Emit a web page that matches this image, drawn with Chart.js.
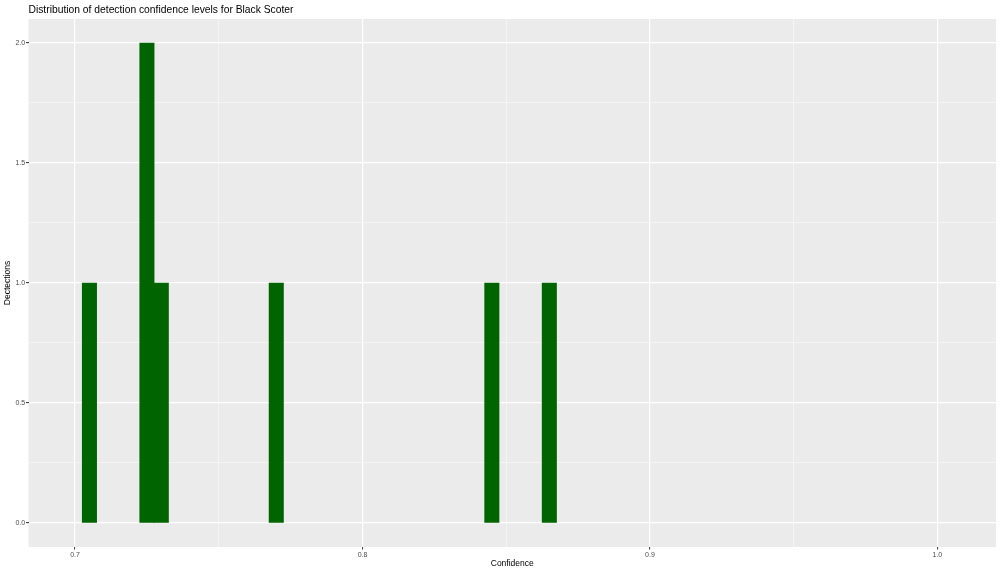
<!DOCTYPE html>
<html>
<head>
<meta charset="utf-8">
<script src="https://cdn.jsdelivr.net/npm/chart.js@4/dist/chart.umd.min.js"></script>
<style>
    body { margin: 0; background: #ffffff; }
    #wrap { width: 1000px; height: 573px; position: relative; }
</style>
</head>
<body>
<div id="wrap"><canvas id="histChart"></canvas></div>
<script>
// histogram bins (binwidth 0.005), only the non-empty ones
const binCenters = [0.705, 0.725, 0.730, 0.770, 0.845, 0.865];
const detections = [1, 2, 1, 1, 1, 1];

// tick values (major get labels, minor only grid lines)
const xMajorTicks = [0.7, 0.8, 0.9, 1.0];
const xMinorTicks = [0.75, 0.85, 0.95];
const yMajorTicks = [0, 0.5, 1, 1.5, 2];
const yMinorTicks = [0.25, 0.75, 1.25, 1.75];

const fontFamily = '"Liberation Sans", Arial, Helvetica, sans-serif';

function isIn(v, list) {
    return list.some(t => Math.abs(t - v) < 1e-9);
}

// grey panel behind the plot area
const panelBg = {
    id: 'panelBg',
    beforeDraw(chart) {
        const { ctx, chartArea } = chart;
        ctx.save();
        ctx.fillStyle = '#EBEBEB';
        ctx.fillRect(chartArea.left, chartArea.top, chartArea.right - chartArea.left, chartArea.bottom - chartArea.top);
        ctx.restore();
    }
};

function gridFor(majors) {
    return {
        drawOnChartArea: true,
        drawTicks: true,
        tickLength: 2.5,
        tickWidth: 1,
        color: ctx => isIn(ctx.tick.value, majors) ? '#FFFFFF' : '#F4F4F4',
        lineWidth: ctx => isIn(ctx.tick.value, majors) ? 1.2 : 1,
        tickColor: ctx => isIn(ctx.tick.value, majors) ? '#333333' : 'rgba(0,0,0,0)'
    };
}

const points = binCenters.map((c, i) => ({ x: c, y: detections[i] }));

new Chart(document.getElementById('histChart'), {
    type: 'bar',
    data: {
        datasets: [{
            label: 'Detections',
            data: points,
            backgroundColor: '#006400',
            borderWidth: 0,
            barPercentage: 1,
            categoryPercentage: 1,
            grouped: false
        }]
    },
    options: {
        responsive: true,
        maintainAspectRatio: false,
        animation: false,
        layout: { padding: { left: 0, right: 4, top: 0, bottom: 0 } },
        plugins: {
            legend: { display: false },
            tooltip: { enabled: false },
            title: {
                display: true,
                text: 'Distribution of detection confidence levels for Black Scoter',
                align: 'start',
                fullSize: false,
                color: '#000000',
                font: { family: fontFamily, size: 10.3, weight: 'normal' },
                padding: { top: 3.6, bottom: 3 }
            }
        },
        scales: {
            x: {
                type: 'linear',
                min: 0.6838,
                max: 1.0204,
                offset: false,
                border: { display: false },
                grid: Object.assign(gridFor(xMajorTicks), { offset: false }),
                afterBuildTicks: scale => {
                    scale.ticks = xMajorTicks.concat(xMinorTicks).sort((a, b) => a - b).map(v => ({ value: v }));
                },
                afterFit: scale => { scale.height = 26; },
                ticks: {
                    autoSkip: false,
                    maxRotation: 0,
                    padding: 1.5,
                    color: '#4D4D4D',
                    font: { family: fontFamily, size: 7 },
                    callback: v => isIn(v, xMajorTicks) ? v.toFixed(1) : ''
                },
                title: {
                    display: true,
                    text: 'Confidence',
                    color: '#000000',
                    font: { family: fontFamily, size: 8.5 },
                    padding: { top: 0, bottom: 4.5 }
                }
            },
            y: {
                type: 'linear',
                min: -0.1,
                max: 2.1,
                border: { display: false },
                grid: gridFor(yMajorTicks),
                afterBuildTicks: scale => {
                    scale.ticks = yMajorTicks.concat(yMinorTicks).sort((a, b) => a - b).map(v => ({ value: v }));
                },
                afterFit: scale => { scale.width = 28.5; },
                ticks: {
                    autoSkip: false,
                    padding: 0.8,
                    color: '#4D4D4D',
                    font: { family: fontFamily, size: 7 },
                    callback: v => isIn(v, yMajorTicks) ? v.toFixed(1) : ''
                },
                title: {
                    display: true,
                    text: 'Dectections',
                    color: '#000000',
                    font: { family: fontFamily, size: 8.5 },
                    padding: { top: 3, bottom: 0 }
                }
            }
        }
    },
    plugins: [panelBg]
});
</script>
</body>
</html>
